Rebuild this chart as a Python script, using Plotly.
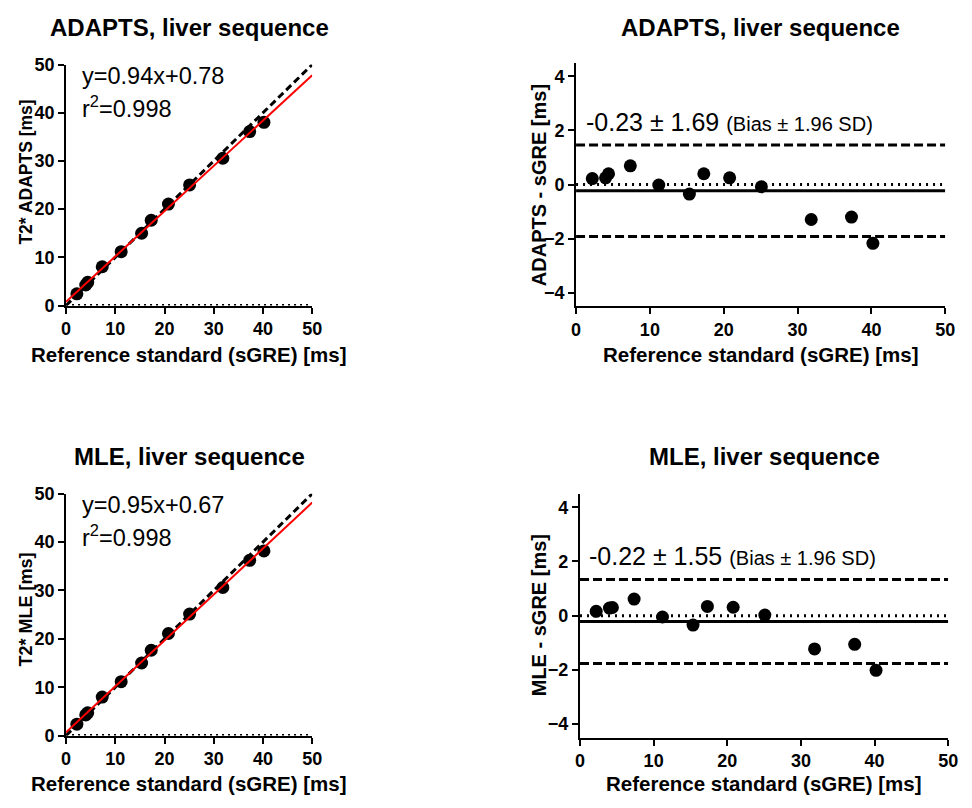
import plotly.graph_objects as go

# Reference standard (sGRE) T2* values [ms]
sgre = [2.2, 4.0, 4.4, 7.35, 11.2, 15.35, 17.3, 20.8, 25.1, 31.85, 37.3, 40.2]
# T2* estimated by ADAPTS [ms]
adapts = [2.42, 4.25, 4.80, 8.04, 11.18, 15.0, 17.7, 21.05, 25.02, 30.56, 36.1, 38.03]
# T2* estimated by MLE [ms]
mle = [2.36, 4.28, 4.70, 7.96, 11.15, 15.0, 17.64, 21.11, 25.12, 30.62, 36.24, 38.18]

# Linear regression results
adapts_slope, adapts_intercept, adapts_r2 = 0.94, 0.78, 0.998
mle_slope, mle_intercept, mle_r2 = 0.95, 0.67, 0.998

# Bland-Altman bias and 1.96 SD
adapts_bias, adapts_loa = -0.23, 1.69
mle_bias, mle_loa = -0.22, 1.55

x_ticks = [0, 10, 20, 30, 40, 50]
y_ticks_corr = [0, 10, 20, 30, 40, 50]
y_ticks_ba = [-4, -2, 0, 2, 4]

W, H = 972, 808
FONT = "Liberation Sans, Arial, sans-serif"


def px(x):
    return x / W


def py(y):
    return 1 - y / H


fig = go.Figure()

# panel geometry in pixels: (left, right, top, bottom)
panels = {
    "tl": (62, 312, 56, 303),
    "tr": (580, 955, 54, 304),
    "bl": (62, 312, 496, 744),
    "br": (584, 958, 496, 746),
}
axis_ids = {"tl": ("x", "y"), "tr": ("x2", "y2"), "bl": ("x3", "y3"), "br": ("x4", "y4")}

axis_common = dict(
    showline=True, linewidth=2, linecolor="black", ticks="outside",
    ticklen=6, tickwidth=2, tickcolor="black", showgrid=False, zeroline=False,
    tickfont=dict(family=FONT, size=18, color="black", weight="bold"),
    mirror=False,
)

for key, (l, r, t, b) in panels.items():
    xa, ya = axis_ids[key]
    xname = "xaxis" if xa == "x" else "xaxis" + xa[1:]
    yname = "yaxis" if ya == "y" else "yaxis" + ya[1:]
    is_corr = key in ("tl", "bl")
    fig.update_layout(**{
        xname: dict(domain=[px(l), px(r)], range=[0, 50], tickvals=x_ticks,
                    anchor=ya, **axis_common),
        yname: dict(domain=[py(b), py(t)],
                    range=[0, 50] if is_corr else [-4.5, 4.5],
                    tickvals=y_ticks_corr if is_corr else y_ticks_ba,
                    anchor=xa, **axis_common),
    })


def corr_panel(key, method, slope, intercept):
    xa, ya = axis_ids[key]
    # dotted line at y = 0
    fig.add_trace(go.Scatter(x=[0, 50], y=[0, 0], mode="lines", xaxis=xa, yaxis=ya,
                             line=dict(color="black", width=3, dash="2px,4px"),
                             cliponaxis=False, showlegend=False, hoverinfo="skip"))
    fig.add_trace(go.Scatter(x=sgre, y=method, mode="markers", xaxis=xa, yaxis=ya,
                             marker=dict(color="black", size=13), cliponaxis=False,
                             showlegend=False))
    # line of identity
    fig.add_trace(go.Scatter(x=[0, 50], y=[0, 50], mode="lines", xaxis=xa, yaxis=ya,
                             line=dict(color="black", width=3, dash="7px,4px"),
                             cliponaxis=False, showlegend=False, hoverinfo="skip"))
    # regression line
    fx = [0, 50]
    fy = [intercept + slope * v for v in fx]
    fig.add_trace(go.Scatter(x=fx, y=fy, mode="lines", xaxis=xa, yaxis=ya,
                             line=dict(color="red", width=2),
                             cliponaxis=False, showlegend=False, hoverinfo="skip"))


def ba_panel(key, method, bias, loa):
    xa, ya = axis_ids[key]
    diff = [m - s for m, s in zip(method, sgre)]
    fig.add_trace(go.Scatter(x=[0, 50], y=[0, 0], mode="lines", xaxis=xa, yaxis=ya,
                             line=dict(color="black", width=3, dash="2px,5px"),
                             cliponaxis=False, showlegend=False, hoverinfo="skip"))
    fig.add_trace(go.Scatter(x=[0, 50], y=[bias, bias], mode="lines", xaxis=xa, yaxis=ya,
                             line=dict(color="black", width=3),
                             cliponaxis=False, showlegend=False, hoverinfo="skip"))
    for lim in (bias + loa, bias - loa):
        fig.add_trace(go.Scatter(x=[0, 50], y=[lim, lim], mode="lines", xaxis=xa, yaxis=ya,
                                 line=dict(color="black", width=3, dash="9px,4px"),
                                 cliponaxis=False, showlegend=False, hoverinfo="skip"))
    fig.add_trace(go.Scatter(x=sgre, y=diff, mode="markers", xaxis=xa, yaxis=ya,
                             marker=dict(color="black", size=13), cliponaxis=False,
                             showlegend=False))


corr_panel("tl", adapts, adapts_slope, adapts_intercept)
ba_panel("tr", adapts, adapts_bias, adapts_loa)
corr_panel("bl", mle, mle_slope, mle_intercept)
ba_panel("br", mle, mle_bias, mle_loa)

annotations = []


def text(x, y, s, size, bold=False, angle=0, xanchor="center"):
    annotations.append(dict(
        x=px(x), y=py(y), xref="paper", yref="paper", text=s, showarrow=False,
        xanchor=xanchor, yanchor="middle", textangle=angle,
        font=dict(family=FONT, size=size, color="black", weight="bold" if bold else "normal"),
    ))


# panel titles
text(187, 18, "ADAPTS, liver sequence", 24, bold=True)
text(767, 18, "ADAPTS, liver sequence", 24, bold=True)
text(187, 458, "MLE, liver sequence", 24, bold=True)
text(771, 458, "MLE, liver sequence", 24, bold=True)

# x-axis titles
xlab = "Reference standard (sGRE) [ms]"
text(187, 353, xlab, 20.5, bold=True)
text(768, 353, xlab, 20.5, bold=True)
text(187, 793, xlab, 20.5, bold=True)
text(771, 793, xlab, 20.5, bold=True)

# y-axis titles
text(21, 166, "T2* ADAPTS [ms]", 17.5, bold=True, angle=-90)
text(542, 180, "ADAPTS - sGRE [ms]", 20, bold=True, angle=-90)
text(21, 615, "T2* MLE [ms]", 18, bold=True, angle=-90)
text(542, 621, "MLE - sGRE [ms]", 20, bold=True, angle=-90)

# regression equations
for (y0, slope, intercept, r2) in ((68, adapts_slope, adapts_intercept, adapts_r2),
                                   (508, mle_slope, mle_intercept, mle_r2)):
    text(76, y0, f"y={slope:.2f}x+{intercept:.2f}", 23.5, xanchor="left")
    text(76, y0 + 31, f"r<sup>2</sup>={r2:.3f}", 23.5, xanchor="left")

# bias annotations
for (x0, y0, bias, loa) in ((588, 115, adapts_bias, adapts_loa),
                            (591, 560, mle_bias, mle_loa)):
    text(x0, y0, f"{bias:.2f} \u00b1 {loa:.2f} <span style='font-size:20px'>(Bias \u00b1 1.96 SD)</span>",
         25, xanchor="left")

fig.update_layout(
    width=W, height=H, margin=dict(l=0, r=0, t=0, b=0),
    paper_bgcolor="white", plot_bgcolor="white",
    annotations=annotations, showlegend=False,
    font=dict(family=FONT, color="black"),
)

fig.write_html("out.html")
